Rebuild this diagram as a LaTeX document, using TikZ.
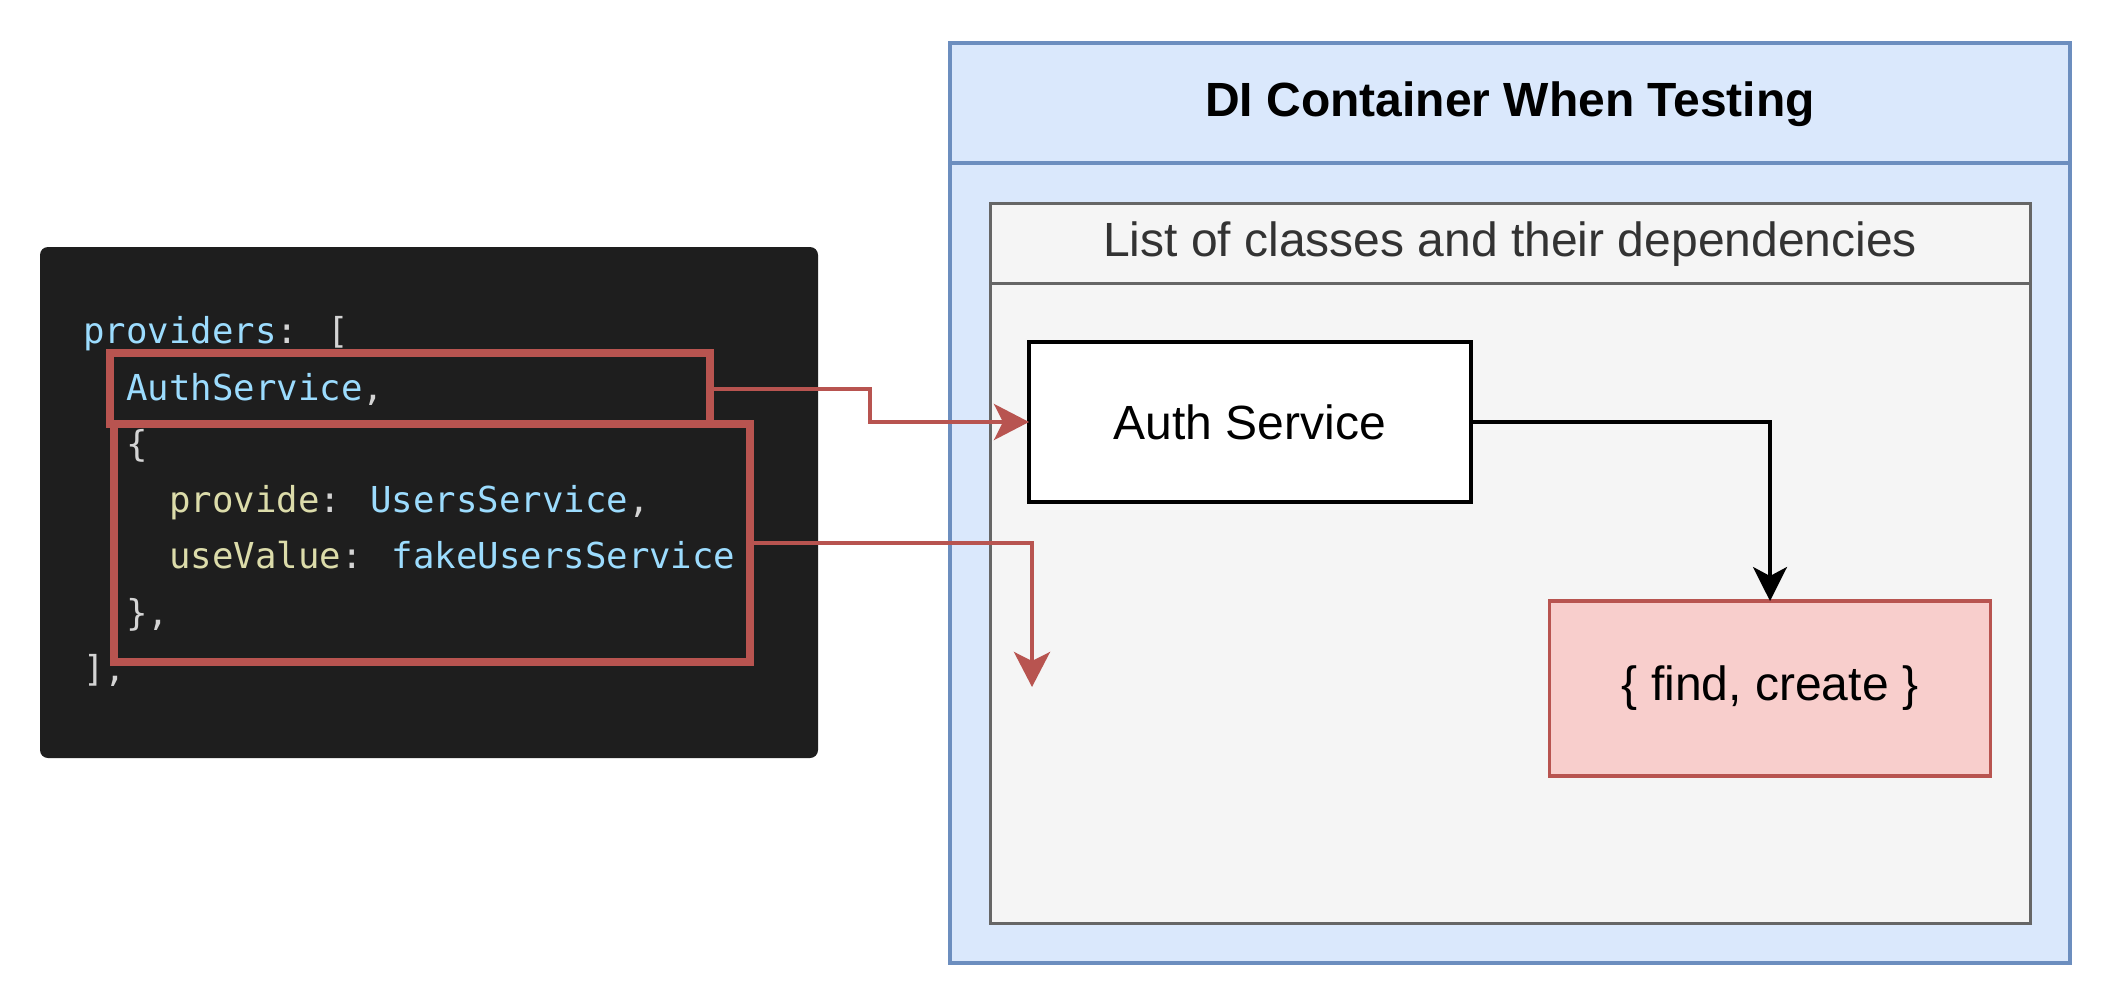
\documentclass[tikz,border=0pt]{standalone}
\usepackage{fontspec}
\setmainfont{Liberation Sans}
\newfontfamily\codefont{DejaVu Sans Mono}
\usetikzlibrary{arrows.meta}
\definecolor{codebg}{HTML}{1E1E1E}
\definecolor{cblue}{HTML}{9CDCFE}
\definecolor{cyel}{HTML}{DCDCAA}
\definecolor{cgrey}{HTML}{D4D4D4}
\definecolor{redline}{HTML}{B85450}
\definecolor{redfill}{HTML}{F8CECC}
\definecolor{bluefill}{HTML}{DAE8FC}
\definecolor{blueline}{HTML}{6C8EBF}
\definecolor{greyfill}{HTML}{F5F5F5}
\definecolor{greyline}{HTML}{666666}
\definecolor{greytext}{HTML}{333333}
\tikzset{
  box/.style={rectangle, inner sep=0pt, outer sep=0pt},
  codeline/.style={anchor=base west, inner sep=0pt, outer sep=0pt, font=\codefont\fontsize{35.7}{50}\selectfont},
  codebox/.style={box, draw=redline, line width=7.5pt},
  label/.style={inner sep=0pt, font=\fontsize{48}{58}\selectfont},
  redarrow/.style={draw=redline, line width=4pt, -{Stealth[length=35pt,width=36pt,inset=9pt]}},
  blackarrow/.style={draw=black, line width=3.4pt, -{Stealth[length=34pt,width=34pt,inset=9pt]}},
}
\begin{document}
\begin{tikzpicture}[x=1pt,y=-1pt]
\useasboundingbox (0,0) rectangle (2112,1004);
\fill[white] (0,0) rectangle (2112,1004);
% code panel
\node[box, fill=codebg, rounded corners=8pt, minimum width=778pt, minimum height=511pt, anchor=north west] (code) at (40,247) {};
\node[codeline] (l1) at (83.5,343) {\textcolor{cblue}{providers}\textcolor{cgrey}{: [}};
\node[codeline] (l2) at (126.5,400) {\textcolor{cblue}{AuthService}\textcolor{cgrey}{,}};
\node[codeline] (l3) at (126.5,456) {\textcolor{cgrey}{\{}};
\node[codeline] (l4) at (169.5,512) {\textcolor{cyel}{provide}\textcolor{cgrey}{: }\textcolor{cblue}{UsersService}\textcolor{cgrey}{,}};
\node[codeline] (l5) at (169.5,568) {\textcolor{cyel}{useValue}\textcolor{cgrey}{: }\textcolor{cblue}{fakeUsersService}};
\node[codeline] (l6) at (126.5,625) {\textcolor{cgrey}{\},}};
\node[codeline] (l7) at (83.5,681) {\textcolor{cgrey}{],}};
% highlight boxes
\node[codebox, minimum width=600pt, minimum height=71pt, anchor=north west] (hb1) at (110,353) {};
\node[codebox, minimum width=636pt, minimum height=238pt, anchor=north west] (hb2) at (114,424) {};
% DI container
\node[box, draw=blueline, fill=bluefill, line width=3.3pt, minimum width=1120pt, minimum height=920pt, anchor=north west] (di) at (950,43) {};
\draw[blueline, line width=3.3pt] (di.west |- 0,163) -- (di.east |- 0,163);
\node[label, font=\bfseries\fontsize{48}{58}\selectfont, anchor=base] (dititle) at (1510,116) {DI Container When Testing};
% list container
\node[box, draw=greyline, fill=greyfill, line width=3pt, minimum width=1040pt, minimum height=720pt, anchor=north west] (list) at (990,203) {};
\draw[greyline, line width=3pt] (list.west |- 0,283) -- (list.east |- 0,283);
\node[label, text=greytext, anchor=base] (listtitle) at (1510,256) {List of classes and their dependencies};
% inner nodes
\node[box, draw=black, fill=white, line width=3.4pt, minimum width=442pt, minimum height=160pt, font=\fontsize{48}{58}\selectfont] (auth) at (1250,422) {Auth Service};
\node[box, draw=redline, fill=redfill, line width=3.4pt, minimum width=441pt, minimum height=175pt, font=\fontsize{48}{58}\selectfont] (find) at (1770,688.5) {\{ find, create \}};
% connectors
\coordinate (free) at (1032,687);
\draw[blackarrow] (auth.east) -| (find.north);
\draw[redarrow] (hb1.east) -- ++(160,0) |- (auth.west);
\draw[redarrow] (hb2.east) -| (free);
\end{tikzpicture}
\end{document}
